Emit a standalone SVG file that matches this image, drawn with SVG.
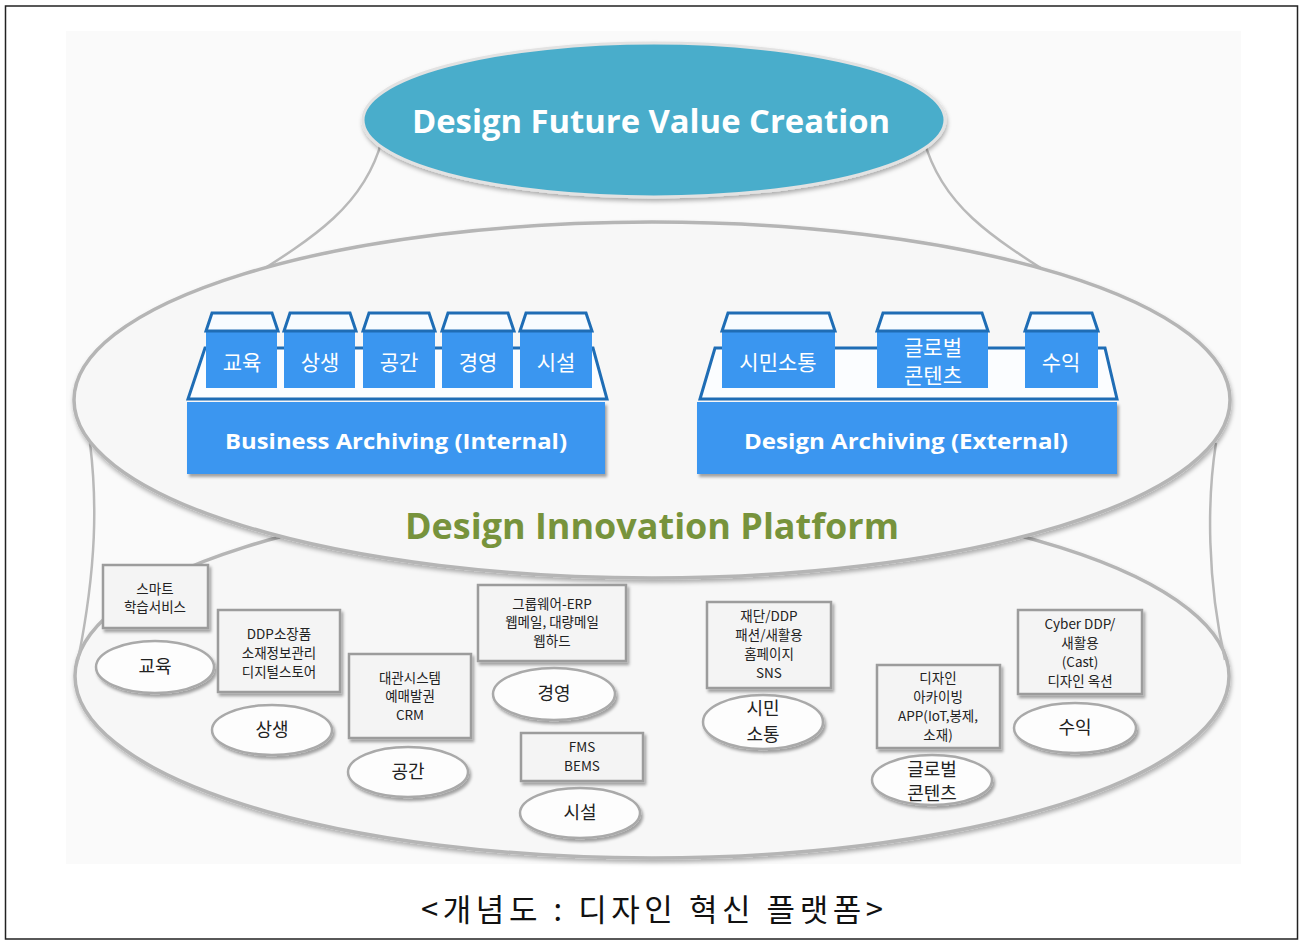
<svg xmlns="http://www.w3.org/2000/svg" width="1304" height="945" viewBox="0 0 1304 945">
<defs>
<filter id="sh" x="-10%" y="-10%" width="125%" height="140%"><feDropShadow dx="2" dy="3" stdDeviation="1.5" flood-color="#000" flood-opacity="0.35"/></filter>
<filter id="sh2" x="-5%" y="-5%" width="110%" height="115%"><feDropShadow dx="1" dy="3" stdDeviation="2" flood-color="#000" flood-opacity="0.3"/></filter>
<style>
.conn{fill:none;stroke:#b9b9b9;stroke-width:2.5}
.big{fill:#f7f7f7;stroke:#b5b5b5;stroke-width:3.5}
.blue{fill:#3a96f0}
.tray{fill:#fbfdff;stroke:#1f6db5;stroke-width:3}
.cap{fill:#f8fcff;stroke:#1f6db5;stroke-width:3}
.wk{font-family:"Noto Sans CJK KR","Noto Sans",sans-serif;fill:#fff;font-size:21px;text-anchor:middle}
.wb{font-family:"Open Sans","Noto Sans",sans-serif;font-weight:bold;fill:#fff;font-size:22px;text-anchor:middle}
.box{fill:#f4f4f4;stroke:#9c9c9c;stroke-width:2.5}
.ell{fill:#fdfdfd;stroke:#a9a9a9;stroke-width:2.5}
.bt{font-family:"Noto Sans CJK KR","Noto Sans",sans-serif;fill:#222;font-size:13.5px;text-anchor:middle}
.et{font-family:"Noto Sans CJK KR","Noto Sans",sans-serif;fill:#222;font-size:18px;text-anchor:middle}
</style>
</defs>
<rect x="0" y="0" width="1304" height="945" fill="#fff"/>
<rect x="5.5" y="6" width="1292" height="933" fill="none" stroke="#222" stroke-width="1.5"/>
<rect x="66" y="31" width="1175" height="833" fill="#fafafa"/>

<g id="connectors">
<path class="conn" d="M382,140 C362,215 300,245 215,300"/>
<path class="conn" d="M924,140 C944,215 1006,245 1091,300"/>
</g>

<g id="bottom-ellipse"><ellipse class="big" cx="652" cy="676" rx="577" ry="182" filter="url(#sh2)"/></g>

<g id="connectors2">
<path class="conn" d="M90,443 C97,500 97,565 78,660"/>
<path class="conn" d="M1216,443 C1207,500 1207,580 1225,660"/>
</g>

<g id="middle-ellipse"><ellipse class="big" cx="652" cy="400" rx="578" ry="178" filter="url(#sh2)"/></g>

<g id="top-ellipse">
<ellipse cx="654" cy="120" rx="291" ry="77" fill="#4aadcb" stroke="#e2e2e2" stroke-width="3" filter="url(#sh2)"/>
<text x="651" y="133" font-family="'Open Sans','Noto Sans',sans-serif" font-weight="bold" font-size="33" fill="#fff" text-anchor="middle" textLength="478" lengthAdjust="spacingAndGlyphs">Design Future Value Creation</text>
</g>

<g id="business-archiving">
<polygon class="tray" points="188,399 205,348 593,348 607,399"/>
<rect class="blue" x="187" y="402" width="418" height="72" filter="url(#sh)"/>
<text class="wb" x="396" y="449" textLength="342" lengthAdjust="spacingAndGlyphs">Business Archiving (Internal)</text>
<g id="b-edu"><rect class="blue" x="206" y="331" width="71" height="57"/><polygon class="cap" points="212,313 272,313 278,331 206,331"/><text class="wk" x="242" y="370">교육</text></g>
<g id="b-sang"><rect class="blue" x="284" y="331" width="71" height="57"/><polygon class="cap" points="290,313 350,313 356,331 284,331"/><text class="wk" x="320" y="370">상생</text></g>
<g id="b-space"><rect class="blue" x="363" y="331" width="72" height="57"/><polygon class="cap" points="369,313 429,313 435,331 363,331"/><text class="wk" x="399" y="370">공간</text></g>
<g id="b-mgmt"><rect class="blue" x="442" y="331" width="71" height="57"/><polygon class="cap" points="448,313 508,313 514,331 442,331"/><text class="wk" x="478" y="370">경영</text></g>
<g id="b-fac"><rect class="blue" x="520" y="331" width="72" height="57"/><polygon class="cap" points="526,313 586,313 592,331 520,331"/><text class="wk" x="556" y="370">시설</text></g>
</g>

<g id="design-archiving">
<polygon class="tray" points="700,399 715,348 1105,348 1117,399"/>
<rect class="blue" x="697" y="402" width="420" height="72" filter="url(#sh)"/>
<text class="wb" x="906" y="449" textLength="324" lengthAdjust="spacingAndGlyphs">Design Archiving (External)</text>
<g id="d-citizen"><rect class="blue" x="722" y="331" width="113" height="57"/><polygon class="cap" points="728,313 829,313 835,331 722,331"/><text class="wk" x="778" y="370">시민소통</text></g>
<g id="d-global"><rect class="blue" x="877" y="331" width="111" height="57"/><polygon class="cap" points="883,313 982,313 988,331 877,331"/><text class="wk" x="933" y="355" font-size="19">글로벌</text><text class="wk" x="933" y="383" font-size="19">콘텐츠</text></g>
<g id="d-revenue"><rect class="blue" x="1025" y="331" width="73" height="57"/><polygon class="cap" points="1031,313 1092,313 1098,331 1025,331"/><text class="wk" x="1061" y="370">수익</text></g>
</g>

<text x="652" y="539" font-family="'Open Sans','Noto Sans',sans-serif" font-weight="bold" font-size="35" fill="#77933c" text-anchor="middle" textLength="494" lengthAdjust="spacingAndGlyphs">Design Innovation Platform</text>

<g id="n-edu">
<rect class="box" x="103" y="565" width="105" height="63" filter="url(#sh)"/>
<text class="bt" x="155" y="594">스마트</text><text class="bt" x="155" y="612">학습서비스</text>
<ellipse class="ell" cx="155" cy="667" rx="59" ry="26" filter="url(#sh)"/>
<text class="et" x="155" y="673">교육</text>
</g>
<g id="n-sang">
<rect class="box" x="218" y="610" width="122" height="82" filter="url(#sh)"/>
<text class="bt" x="279" y="639">DDP소장품</text><text class="bt" x="279" y="658">소재정보관리</text><text class="bt" x="279" y="677">디지털스토어</text>
<ellipse class="ell" cx="272" cy="730" rx="60" ry="25" filter="url(#sh)"/>
<text class="et" x="272" y="736">상생</text>
</g>
<g id="n-space">
<rect class="box" x="349" y="654" width="122" height="84" filter="url(#sh)"/>
<text class="bt" x="410" y="683">대관시스템</text><text class="bt" x="410" y="701">예매발권</text><text class="bt" x="410" y="720">CRM</text>
<ellipse class="ell" cx="408" cy="772" rx="60" ry="25" filter="url(#sh)"/>
<text class="et" x="408" y="778">공간</text>
</g>
<g id="n-mgmt">
<rect class="box" x="478" y="585" width="148" height="76" filter="url(#sh)"/>
<text class="bt" x="552" y="609">그룹웨어-ERP</text><text class="bt" x="552" y="627">웹메일, 대량메일</text><text class="bt" x="552" y="646">웹하드</text>
<ellipse class="ell" cx="554" cy="694" rx="61" ry="26" filter="url(#sh)"/>
<text class="et" x="554" y="700">경영</text>
</g>
<g id="n-fac">
<rect class="box" x="521" y="733" width="122" height="48" filter="url(#sh)"/>
<text class="bt" x="582" y="752">FMS</text><text class="bt" x="582" y="771">BEMS</text>
<ellipse class="ell" cx="580" cy="813" rx="60" ry="25" filter="url(#sh)"/>
<text class="et" x="580" y="819">시설</text>
</g>
<g id="n-citizen">
<rect class="box" x="707" y="602" width="124" height="86" filter="url(#sh)"/>
<text class="bt" x="769" y="621">재단/DDP</text><text class="bt" x="769" y="640">패션/새활용</text><text class="bt" x="769" y="659">홈페이지</text><text class="bt" x="769" y="678">SNS</text>
<ellipse class="ell" cx="763" cy="722" rx="60" ry="27" filter="url(#sh)"/>
<text class="et" x="763" y="715">시민</text><text class="et" x="763" y="741">소통</text>
</g>
<g id="n-global">
<rect class="box" x="877" y="665" width="123" height="83" filter="url(#sh)"/>
<text class="bt" x="938" y="683">디자인</text><text class="bt" x="938" y="702">아카이빙</text><text class="bt" x="938" y="721">APP(IoT,봉제,</text><text class="bt" x="938" y="740">소재)</text>
<ellipse class="ell" cx="932" cy="780" rx="60" ry="25" filter="url(#sh)"/>
<text class="et" x="932" y="776">글로벌</text><text class="et" x="932" y="800">콘텐츠</text>
</g>
<g id="n-revenue">
<rect class="box" x="1018" y="610" width="124" height="84" filter="url(#sh)"/>
<text class="bt" x="1080" y="629">Cyber DDP/</text><text class="bt" x="1080" y="648">새활용</text><text class="bt" x="1080" y="667">(Cast)</text><text class="bt" x="1080" y="686">디자인 옥션</text>
<ellipse class="ell" cx="1075" cy="728" rx="61" ry="25" filter="url(#sh)"/>
<text class="et" x="1075" y="734">수익</text>
</g>

<text x="652" y="921" font-family="'Noto Sans CJK KR','Noto Sans',sans-serif" font-size="31" fill="#111" text-anchor="middle" textLength="462" lengthAdjust="spacing">&lt;개념도 : 디자인 혁신 플랫폼&gt;</text>
</svg>
